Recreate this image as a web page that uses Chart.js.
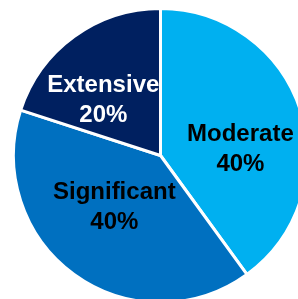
<!DOCTYPE html>
<html>
<head>
<meta charset="utf-8">
<script src="https://cdn.jsdelivr.net/npm/chart.js@4"></script>
<style>
  html, body { margin: 0; padding: 0; background: #fff; overflow: hidden; }
  body { width: 298px; height: 299px; position: relative; }
  #wrap { position: absolute; left: 12px; top: 7px; width: 297px; height: 297px; }
</style>
</head>
<body>
<div id="wrap"><canvas id="pieChart"></canvas></div>
<script>
const categories = ['Moderate', 'Significant', 'Extensive'];
const shares = [40, 40, 20];
const sliceColors = ['#00B0F0', '#0070C0', '#002060'];
const labelColors = ['#000000', '#000000', '#FFFFFF'];

// small nudges so the text sits where the original put it
const labelNudge = [[10, 17], [-3, -8], [-14, 4]];

const sliceLabels = {
    id: 'sliceLabels',
    afterDatasetsDraw(chart) {
        const ctx = chart.ctx;
        const arcs = chart.getDatasetMeta(0).data;
        ctx.save();
        ctx.font = 'bold 24px "Liberation Sans", Arial, sans-serif';
        ctx.textAlign = 'center';
        ctx.textBaseline = 'middle';
        arcs.forEach((arc, i) => {
            const p = arc.getCenterPoint();
            const x = p.x + labelNudge[i][0];
            const y = p.y + labelNudge[i][1];
            ctx.fillStyle = labelColors[i];
            ctx.fillText(categories[i], x, y - 15);
            ctx.fillText(shares[i] + '%', x, y + 15);
        });
        ctx.restore();
    }
};

const pieChart = new Chart(document.getElementById('pieChart').getContext('2d'), {
    type: 'pie',
    data: {
        labels: categories,
        datasets: [{
            data: shares,
            backgroundColor: sliceColors,
            borderColor: '#ffffff',
            borderWidth: 3
        }]
    },
    options: {
        responsive: true,
        maintainAspectRatio: false,
        animation: false,
        layout: { padding: 0 },
        plugins: {
            legend: { display: false },
            tooltip: { enabled: false }
        }
    },
    plugins: [sliceLabels]
});
</script>
</body>
</html>
